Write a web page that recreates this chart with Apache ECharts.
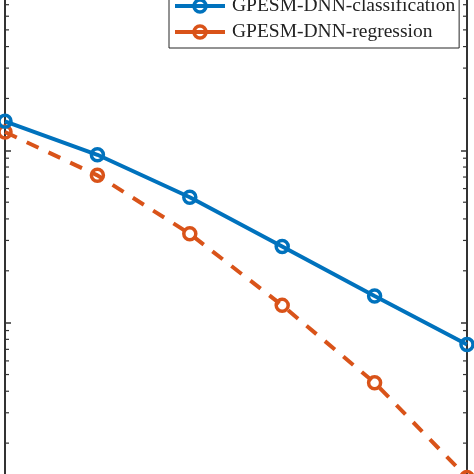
<!DOCTYPE html>
<html>
<head>
<meta charset="utf-8">
<script src="https://cdn.jsdelivr.net/npm/echarts@6/dist/echarts.min.js"></script>
<style>html,body{margin:0;padding:0;background:#fff;}#c{width:474px;height:474px;}</style>
</head>
<body>
<div id="c"></div>
<script>
var xValues = [0, 2, 4, 6, 8, 10];
var classification = [0.1474, 0.0942, 0.0534, 0.0277, 0.01427, 0.00748];
var regression = [0.1277, 0.0716, 0.0328, 0.0126, 0.00448, 0.001265];
var seriesNames = ['GPESM-DNN-classification', 'GPESM-DNN-regression'];
var minorTickValues = [];
[0.001, 0.01, 0.1].forEach(function (d) {
  for (var m = 2; m <= 9; m++) minorTickValues.push(+(m * d).toPrecision(3));
});

var axisColor = '#333333';
var font = "'Liberation Serif', 'Times New Roman', serif";

function pairs(ys) { return xValues.map(function (x, i) { return [x, ys[i]]; }); }

var chart = echarts.init(document.getElementById('c'));
var yAxisBase = {
  type: 'log', logBase: 10, min: 0.001, max: 1,
  axisLine: { show: true, lineStyle: { color: axisColor, width: 2 } },
  axisTick: { show: true, inside: true, length: 6, lineStyle: { color: axisColor, width: 1.5 } },
  axisLabel: { show: false },
  splitLine: { show: false },
  minorTick: { show: false }
};
chart.setOption({
  animation: false,
  backgroundColor: '#ffffff',
  grid: { left: 5, right: 7, top: -22, height: 517, outerBoundsMode: 'none', containLabel: false },
  xAxis: { type: 'value', min: 0, max: 10, show: false },
  yAxis: [
    Object.assign({}, yAxisBase, { position: 'left' }),
    Object.assign({}, yAxisBase, { position: 'right' })
  ],
  legend: {
    data: seriesNames,
    orient: 'vertical',
    left: 169, top: -12,
    padding: [5, 4, 3, 4],
    itemWidth: 50, itemHeight: 15, itemGap: 0,
    borderColor: '#262626', borderWidth: 1,
    backgroundColor: '#ffffff',
    lineStyle: { width: 4, type: 'solid' },
    itemStyle: { borderWidth: 3.5 },
    textStyle: { fontFamily: font, fontSize: 19.5, color: '#222222', lineHeight: 26, padding: [0, 0, 0, 2] }
  },
  series: [
    {
      name: seriesNames[0], type: 'line', data: pairs(classification),
      symbol: 'circle', symbolSize: 12,
      lineStyle: { color: '#0072BD', width: 4 },
      itemStyle: { color: 'rgba(255,255,255,0)', borderColor: '#0072BD', borderWidth: 3.5 },
      z: 3
    },
    {
      name: seriesNames[1], type: 'line', data: pairs(regression),
      symbol: 'circle', symbolSize: 12,
      lineStyle: { color: '#D95319', width: 4, type: [13, 11] },
      itemStyle: { color: 'rgba(255,255,255,0)', borderColor: '#D95319', borderWidth: 3.5 },
      z: 2
    },
    {
      name: 'minorTicks', type: 'custom', silent: true, clip: false,
      data: minorTickValues.map(function (v) { return [0, v]; }),
      renderItem: function (params, api) {
        var v = api.value(1);
        var pl = api.coord([0, v]);
        var pr = api.coord([10, v]);
        var st = { stroke: axisColor, lineWidth: 1.2 };
        return {
          type: 'group',
          children: [
            { type: 'line', shape: { x1: pl[0], y1: pl[1], x2: pl[0] + 4, y2: pl[1] }, style: st },
            { type: 'line', shape: { x1: pr[0], y1: pr[1], x2: pr[0] - 4, y2: pr[1] }, style: st }
          ]
        };
      }
    }
  ]
});
</script>
</body>
</html>
